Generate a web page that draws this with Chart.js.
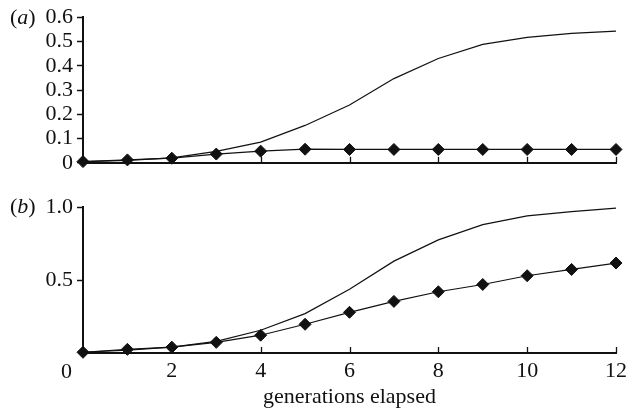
<!DOCTYPE html>
<html>
<head>
<meta charset="utf-8">
<script src="https://cdn.jsdelivr.net/npm/chart.js@4"></script>
<style>
  body { margin: 0; background: #fff; width: 640px; height: 412px; overflow: hidden; position: relative;
         font-family: 'Liberation Serif', 'DejaVu Serif', serif; color: #111; }
  .box { position: absolute; left: 0; width: 640px; }
  .lbl { position: absolute; font-size: 22px; line-height: 22px; white-space: nowrap; }
</style>
</head>
<body>
<div class="box" style="top:0;height:180px"><canvas id="chartA"></canvas></div>
<div class="box" style="top:190px;height:222px"><canvas id="chartB"></canvas></div>
<div class="lbl" style="left:10px;top:6px">(<i>a</i>)</div>
<div class="lbl" style="left:10px;top:195px">(<i>b</i>)</div>
<div class="lbl" style="left:61px;top:360px">0</div>
<script>
// ─── Data ────────────────────────────────────────────────────────────────────
const generations = [0, 1, 2, 3, 4, 5, 6, 7, 8, 9, 10, 11, 12];

// panel (a)
const aCurve   = [0.005, 0.010, 0.020, 0.047, 0.085, 0.154, 0.238, 0.347, 0.430, 0.488, 0.517, 0.533, 0.543];
const aDiamond = [0.005, 0.012, 0.019, 0.036, 0.048, 0.056, 0.055, 0.055, 0.055, 0.055, 0.055, 0.055, 0.055];

// panel (b)
const bCurve   = [0.005, 0.020, 0.040, 0.080, 0.156, 0.270, 0.437, 0.630, 0.776, 0.880, 0.940, 0.970, 0.993];
const bDiamond = [0.005, 0.025, 0.040, 0.073, 0.122, 0.197, 0.279, 0.354, 0.420, 0.470, 0.530, 0.573, 0.617];

const INK = '#111';
const FONT = { family: "'Liberation Serif', 'DejaVu Serif', serif", size: 22 };

Chart.defaults.font.family = FONT.family;
Chart.defaults.color = INK;

// x ticks point inwards (up) from the axis line
const innerTicks = {
    id: 'innerTicks',
    beforeDatasetsDraw(chart) {
        const xs = chart.scales.x;
        const ctx = chart.ctx;
        const y0 = chart.chartArea.bottom;
        ctx.save();
        ctx.strokeStyle = INK;
        ctx.lineWidth = 1.3;
        xs.ticks.forEach(t => {
            if (t.value <= 0) return;
            const px = Math.round(xs.getPixelForValue(t.value)) + 0.5;
            ctx.beginPath();
            ctx.moveTo(px, y0);
            ctx.lineTo(px, y0 - 6);
            ctx.stroke();
        });
        ctx.restore();
    }
};

function toPoints(ys) {
    return generations.map((g, i) => ({ x: g, y: ys[i] }));
}

function makeDatasets(curve, diamonds) {
    return [
        {
            data: toPoints(curve),
            borderColor: INK,
            borderWidth: 1.2,
            pointRadius: 0,
            tension: 0,
            clip: false
        },
        {
            data: toPoints(diamonds),
            borderColor: INK,
            borderWidth: 1.2,
            pointStyle: 'rectRot',
            pointRadius: 6,
            pointBackgroundColor: INK,
            pointBorderColor: INK,
            pointBorderWidth: 1,
            tension: 0,
            clip: false
        }
    ];
}

function yAxis(max, step, labelFn, dropZero) {
    return {
        min: 0,
        max: max,
        afterFit: s => { s.width = 83; },
        afterBuildTicks: s => { if (dropZero) s.ticks = s.ticks.filter(t => t.value > 0); },
        ticks: {
            stepSize: step,
            autoSkip: false,
            color: INK,
            font: FONT,
            padding: 4,
            callback: labelFn
        },
        grid: { drawOnChartArea: false, tickLength: 6, tickColor: INK, tickWidth: 1.5 },
        border: { color: INK, width: 2 }
    };
}

// ─── Panel (a) ───────────────────────────────────────────────────────────────
new Chart(document.getElementById('chartA'), {
    type: 'line',
    data: { datasets: makeDatasets(aCurve, aDiamond) },
    plugins: [innerTicks],
    options: {
        responsive: true,
        maintainAspectRatio: false,
        animation: false,
        layout: { padding: { top: 17, right: 24, bottom: 14, left: 0 } },
        plugins: { legend: { display: false }, tooltip: { enabled: false } },
        scales: {
            x: {
                type: 'linear',
                min: 0,
                max: 12,
                afterFit: s => { s.height = 0; },
                ticks: { stepSize: 2, display: false },
                grid: { drawOnChartArea: false, drawTicks: false },
                border: { color: INK, width: 2 }
            },
            y: yAxis(0.6, 0.1, v => (v === 0 ? '0' : v.toFixed(1)), false)
        }
    }
});

// ─── Panel (b) ───────────────────────────────────────────────────────────────
new Chart(document.getElementById('chartB'), {
    type: 'line',
    data: { datasets: makeDatasets(bCurve, bDiamond) },
    plugins: [innerTicks],
    options: {
        responsive: true,
        maintainAspectRatio: false,
        animation: false,
        layout: { padding: { top: 16, right: 24, bottom: 0, left: 0 } },
        plugins: { legend: { display: false }, tooltip: { enabled: false } },
        scales: {
            x: {
                type: 'linear',
                min: 0,
                max: 12,
                afterFit: s => { s.height = 59; },
                ticks: {
                    stepSize: 2,
                    autoSkip: false,
                    color: INK,
                    font: FONT,
                    padding: 5,
                    maxRotation: 0,
                    callback: v => (v === 0 ? '' : v)
                },
                grid: { drawOnChartArea: false, drawTicks: false },
                border: { color: INK, width: 2 },
                title: {
                    display: true,
                    text: 'generations elapsed',
                    color: INK,
                    font: FONT,
                    padding: { top: 0, bottom: 2 }
                }
            },
            y: yAxis(1.0, 0.5, v => v.toFixed(1), true)
        }
    }
});
</script>
</body>
</html>
